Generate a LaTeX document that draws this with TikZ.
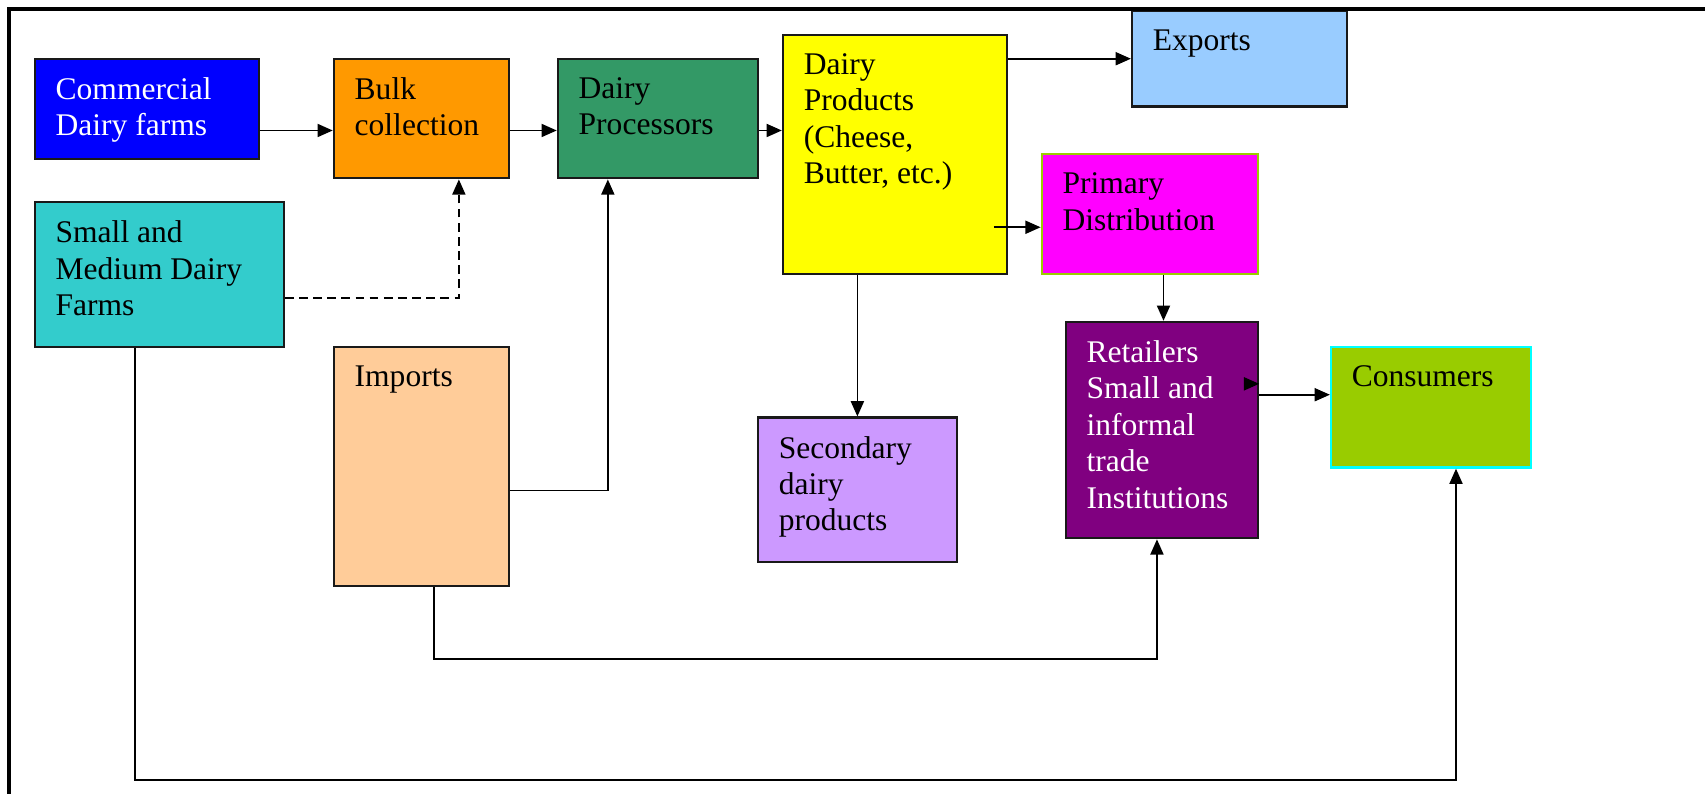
\documentclass[tikz,border=0pt]{standalone}
\usepackage{fontspec}
\setmainfont{Liberation Serif}
\usepackage{xcolor}
\usepackage{tikz}
\usetikzlibrary{arrows.meta}

\definecolor{comblue}{RGB}{0,0,255}
\definecolor{bulkorange}{RGB}{255,153,0}
\definecolor{procgreen}{RGB}{51,153,102}
\definecolor{prodyellow}{RGB}{255,255,0}
\definecolor{expblue}{RGB}{153,204,255}
\definecolor{primmagenta}{RGB}{255,0,255}
\definecolor{limegreen}{RGB}{153,204,0}
\definecolor{smallteal}{RGB}{51,204,204}
\definecolor{imptan}{RGB}{255,204,153}
\definecolor{seclilac}{RGB}{204,153,255}
\definecolor{retpurple}{RGB}{128,0,128}
\definecolor{conscyan}{RGB}{0,255,255}

\newcommand{\boxfont}{\fontsize{29}{33.5}\selectfont}

\begin{document}
\begin{tikzpicture}[x=1pt,y=-1pt,
	box/.style={draw=black!90,line width=2pt,rectangle,anchor=north west,inner sep=0pt},
	txt/.style={anchor=north west,inner sep=0pt,align=left,font=\boxfont,xshift=20pt,yshift=-18pt},
	>={Triangle[length=14pt,width=12pt]}]
	\useasboundingbox (0,0) rectangle (1568,730);
	\clip (0,0) rectangle (1568,730);
	%
	\node[box,fill=comblue,minimum width=206pt,minimum height=92pt,
		label={[txt,text=white]north west:Commercial\\Dairy farms}] (comm) at (31,53) {};
	\node[box,fill=bulkorange,minimum width=161pt,minimum height=110pt,
		label={[txt]north west:Bulk\\collection}] (bulk) at (306,53) {};
	\node[box,fill=procgreen,minimum width=184pt,minimum height=110pt,
		label={[txt]north west:Dairy\\Processors}] (proc) at (512,53) {};
	\node[box,fill=prodyellow,minimum width=206pt,minimum height=220pt,
		label={[txt]north west:Dairy\\Products\\(Cheese,\\Butter, etc.)}] (prod) at (719,31) {};
	\node[box,fill=expblue,minimum width=198pt,minimum height=88pt,
		label={[txt]north west:Exports}] (exp) at (1040,9) {};
	\node[box,draw=limegreen,fill=primmagenta,minimum width=199pt,minimum height=110pt,
		label={[txt]north west:Primary\\Distribution}] (prim) at (957,141) {};
	\node[box,fill=smallteal,minimum width=229pt,minimum height=133pt,
		label={[txt]north west:Small and\\Medium Dairy\\Farms}] (small) at (31,185) {};
	\node[box,fill=imptan,minimum width=161pt,minimum height=220pt,
		label={[txt]north west:Imports}] (imp) at (306,318) {};
	\node[box,fill=seclilac,minimum width=183pt,minimum height=133pt,
		label={[txt]north west:Secondary\\dairy\\products}] (sec) at (696,383) {};
	\node[box,fill=retpurple,minimum width=177pt,minimum height=199pt,
		label={[txt,text=white]north west:Retailers\\Small and\\informal\\trade\\Institutions}] (ret) at (979,295) {};
	\node[box,draw=conscyan,fill=limegreen,minimum width=184pt,minimum height=111pt,
		label={[txt]north west:Consumers}] (cons) at (1223,318) {};
	%
	\path[->,line width=1.6pt]
	([yshift=-20pt]comm.east) edge ([yshift=-11pt]bulk.west)
	([yshift=-11pt]bulk.east) edge ([yshift=-11pt]proc.west)
	([yshift=-11pt]proc.east) edge ([yshift=22pt]prod.west)
	([yshift=88pt]prod.east) edge (exp.west)
	([xshift=-13pt,yshift=-67pt]prod.east) edge ([yshift=-12pt]prim.west)
	([xshift=12.5pt]prim.south) edge ([xshift=1.5pt]ret.north)
	([xshift=-34.5pt]prod.south) edge (sec.north)
	([yshift=32.5pt]ret.east) edge ([yshift=11.5pt]cons.west)
	([xshift=-14pt,yshift=42.5pt]ret.east) edge ([yshift=42.5pt]ret.east);
	%
	\draw[->,line width=1.6pt,dash pattern=on 8pt off 5pt] ([yshift=-21.5pt]small.east) -| ([xshift=34.5pt]bulk.south);
	\draw[->,line width=1.6pt] ([yshift=-22pt]imp.east) -| ([xshift=-46pt]proc.south);
	\draw[->,line width=1.6pt] ([xshift=11.5pt]imp.south) -- ++(0,66) -| ([xshift=-4.5pt]ret.south);
	\draw[->,line width=1.6pt] ([xshift=-22.5pt]small.south) -- ++(0,397) -| ([xshift=23pt]cons.south);
	%
	\draw[line width=4pt] (8,760) -- (8,8) -- (1600,8);
\end{tikzpicture}
\end{document}
